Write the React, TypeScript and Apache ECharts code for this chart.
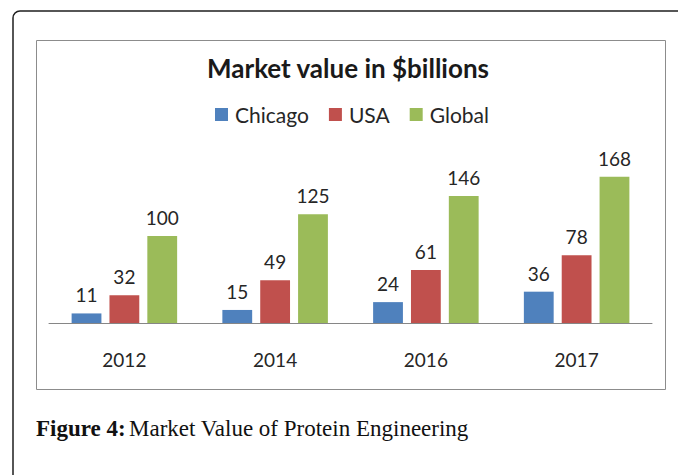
import React, { useEffect, useRef } from "react";
import * as echarts from "echarts";

const categories = ["2012", "2014", "2016", "2017"];
const chicago = [11, 15, 24, 36];
const usa = [32, 49, 61, 78];
const global = [100, 125, 146, 168];
const seriesNames = ["Chicago", "USA", "Global"];
const colors = ["#4F81BD", "#C0504D", "#9BBB59"];

const FONT = "Lato, 'Open Sans', sans-serif";
const SERIF = "'Liberation Serif', serif";

export default function App() {
  const ref = useRef<HTMLDivElement>(null);
  useEffect(() => {
    if (!ref.current) return;
    const chart = echarts.init(ref.current, null, { renderer: "svg" });
    const data = [chicago, usa, global];
    chart.setOption({
      animation: false,
      backgroundColor: "#ffffff",
      title: {
        text: "Market value in $billions",
        left: 207,
        top: 55,
        padding: 0,
        textStyle: { fontFamily: FONT, fontWeight: "bold", fontSize: 26, color: "#1a1a1a" },
      },
      legend: {
        data: seriesNames,
        left: 215,
        top: 104,
        padding: 0,
        icon: "rect",
        itemWidth: 13,
        itemHeight: 13,
        itemGap: 20,
        textStyle: { fontFamily: FONT, fontSize: 21, color: "#262626", padding: [0, 0, 0, 2] },
      },
      grid: { left: 49, right: 26, bottom: 152, top: 149, containLabel: false },
      xAxis: {
        type: "category",
        data: categories,
        axisLine: { lineStyle: { color: "#868686", width: 1 } },
        axisTick: { show: false },
        axisLabel: { fontFamily: FONT, fontSize: 19, color: "#262626", margin: 27 },
      },
      yAxis: {
        type: "value",
        min: 0,
        max: 200,
        show: false,
        splitLine: { show: false },
      },
      series: seriesNames.map((name, i) => ({
        name,
        type: "bar",
        data: data[i],
        barGap: "27%",
        barCategoryGap: "30%",
        itemStyle: { color: colors[i] },
        label: {
          show: true,
          position: "top",
          distance: 9,
          fontFamily: FONT,
          fontSize: 19,
          color: "#262626",
        },
      })),
      graphic: [
        {
          type: "rect",
          shape: { x: 13, y: 11, width: 720, height: 520, r: 7 },
          style: { fill: "none", stroke: "#1f1f1f", lineWidth: 1.5 },
          silent: true,
        },
        {
          type: "rect",
          shape: { x: 36.5, y: 40.5, width: 629, height: 349 },
          style: { fill: "none", stroke: "#8c8c8c", lineWidth: 1 },
          silent: true,
        },
        {
          type: "text",
          left: 36,
          top: 417,
          style: {
            text: "{b|Figure 4:} {r|Market Value of Protein Engineering}",
            rich: {
              b: { fontFamily: SERIF, fontWeight: "bold", fontSize: 23, fill: "#111" },
              r: { fontFamily: SERIF, fontSize: 23, fill: "#111" },
            },
          },
          silent: true,
        },
      ],
    });
    return () => chart.dispose();
  }, []);
  return (
    <div
      ref={ref}
      style={{ position: "fixed", left: 0, top: 0, width: 678, height: 475, background: "#fff" }}
    />
  );
}
